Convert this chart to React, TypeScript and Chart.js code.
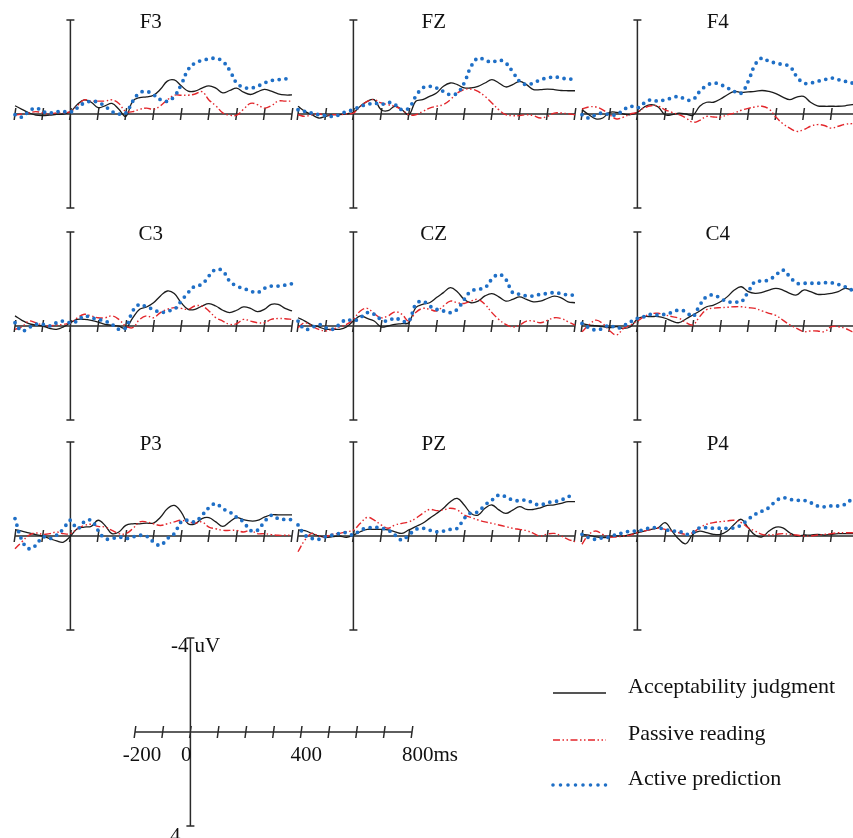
import React, { useEffect, useRef } from "react";
import { Chart, registerables } from "chart.js";
Chart.register(...registerables);

// ---------- data ----------
const times = [-200, -175, -150, -125, -100, -75, -50, -25, 0, 25, 50, 75, 100, 125, 150, 175, 200, 225, 250, 275, 300, 325, 350, 375, 400, 425, 450, 475, 500, 525, 550, 575, 600, 625, 650, 675, 700, 725, 750, 775, 800];
const electrodes = ["F3", "FZ", "F4", "C3", "CZ", "C4", "P3", "PZ", "P4"];
const seriesNames = ["Acceptability judgment", "Passive reading", "Active prediction"];
const axisTicks = [-200, -100, 0, 100, 200, 300, 400, 500, 600, 700, 800];
const scaleTickLabels = ["-200", "0", "400", "800ms"];
const scaleTickTimes = [-200, 0, 400, 800];
const voltRange = [-4, 4];
const voltUnit = "uV";

const f3Judgment = [-0.35, -0.2, -0.05, 0.05, 0.07, 0.05, 0.02, 0, -0.1, -0.4, -0.6, -0.5, -0.27, -0.35, -0.45, -0.2, 0.1, -0.55, -0.7, -0.73, -0.8, -1.05, -1.4, -1.45, -1.2, -0.97, -0.97, -1.1, -1.2, -1.1, -0.9, -1.0, -1.1, -0.93, -0.83, -0.94, -1.05, -0.97, -0.86, -0.81, -0.81];
const f3Passive = [0.05, 0, -0.05, -0.1, -0.05, 0, -0.05, -0.05, -0.1, -0.35, -0.6, -0.55, -0.55, -0.55, -0.6, -0.45, -0.1, -0.1, -0.2, -0.25, -0.2, -0.35, -0.6, -0.8, -0.8, -0.8, -0.85, -0.95, -0.6, -0.35, -0.05, 0.05, 0.05, -0.2, -0.45, -0.4, -0.25, -0.35, -0.55, -0.55, -0.55];
const f3Prediction = [0.03, 0.13, -0.11, -0.26, -0.11, -0.04, -0.1, -0.1, -0.08, -0.26, -0.47, -0.54, -0.5, -0.33, -0.11, 0, -0.04, -0.54, -0.9, -0.96, -0.82, -0.61, -0.54, -0.75, -1.25, -1.89, -2.17, -2.28, -2.34, -2.37, -2.24, -1.86, -1.32, -1.14, -1.1, -1.18, -1.32, -1.42, -1.46, -1.49, -1.57];

const fzJudgment = [-0.33, -0.11, 0.03, 0.17, 0.1, 0.03, 0.03, -0.01, -0.07, -0.33, -0.54, -0.61, -0.18, -0.14, -0.33, -0.18, 0.03, -0.54, -0.61, -0.75, -0.89, -1.18, -1.32, -1.25, -1.11, -1.11, -1.18, -1.32, -1.46, -1.32, -1.15, -1.25, -1.39, -1.25, -1.04, -1.04, -1.06, -1.04, -1.0, -0.99, -0.99];
const fzPassive = [0.03, 0.1, 0.03, -0.01, 0.07, 0.03, 0.03, -0.01, -0.04, -0.33, -0.54, -0.61, -0.47, -0.4, -0.33, -0.18, 0.03, 0.03, -0.11, -0.25, -0.33, -0.4, -0.61, -0.89, -1.04, -1.06, -0.96, -0.75, -0.47, -0.18, 0.03, 0.07, 0.07, 0.03, 0.07, 0.17, 0.1, -0.04, -0.04, -0.01, 0.03];
const fzPrediction = [-0.18, -0.11, -0.04, 0.03, 0.07, 0.1, 0.03, -0.11, -0.18, -0.33, -0.4, -0.47, -0.4, -0.5, -0.4, -0.18, -0.25, -0.75, -1.11, -1.18, -1.11, -0.96, -0.82, -0.89, -1.32, -2.03, -2.38, -2.3, -2.2, -2.3, -2.17, -1.8, -1.39, -1.25, -1.32, -1.46, -1.53, -1.58, -1.53, -1.49, -1.49];

const f4Judgment = [-0.18, 0.03, 0.21, 0.17, -0.07, -0.07, 0, 0.03, -0.07, -0.3, -0.4, -0.3, 0.03, 0.03, -0.04, 0, 0.06, -0.33, -0.5, -0.5, -0.64, -0.82, -0.96, -0.92, -0.94, -0.96, -1.0, -0.96, -0.87, -0.72, -0.61, -0.72, -0.75, -0.5, -0.35, -0.33, -0.33, -0.33, -0.35, -0.4, -0.4];
const f4Passive = [-0.21, -0.3, -0.3, -0.18, 0.03, 0.21, 0.13, 0, -0.07, -0.26, -0.35, -0.33, -0.18, -0.07, 0.03, 0.17, 0.35, 0.27, 0.1, 0.13, 0.13, 0.03, -0.04, -0.16, -0.24, -0.3, -0.33, -0.21, 0.13, 0.41, 0.6, 0.74, 0.67, 0.52, 0.45, 0.49, 0.6, 0.52, 0.44, 0.41, 0.41];
const f4Prediction = [0.03, 0.17, 0.03, -0.04, 0.03, 0.03, -0.18, -0.33, -0.26, -0.47, -0.61, -0.54, -0.61, -0.68, -0.75, -0.61, -0.61, -0.96, -1.21, -1.32, -1.25, -1.11, -0.96, -0.89, -1.39, -2.1, -2.38, -2.24, -2.17, -2.1, -2.03, -1.6, -1.32, -1.32, -1.39, -1.46, -1.53, -1.46, -1.39, -1.32, -1.3];

const c3Judgment = [-0.43, -0.24, -0.1, -0.04, 0, 0.1, 0.14, 0.04, -0.14, -0.28, -0.28, -0.24, -0.17, -0.07, -0.03, 0.01, 0.1, -0.35, -0.71, -0.81, -0.99, -1.28, -1.49, -1.38, -0.99, -0.71, -0.71, -0.85, -0.95, -0.85, -0.67, -0.57, -0.67, -0.81, -0.75, -0.61, -0.71, -0.92, -0.92, -0.75, -0.64];
const c3Passive = [0.14, 0.04, -0.21, -0.14, -0.04, 0, -0.04, -0.07, -0.14, -0.35, -0.5, -0.43, -0.35, -0.35, -0.43, -0.28, 0, 0.07, -0.28, -0.43, -0.35, -0.57, -0.71, -0.78, -0.75, -0.71, -0.85, -0.85, -0.64, -0.35, -0.21, -0.07, -0.1, -0.28, -0.21, -0.14, -0.14, -0.28, -0.32, -0.31, -0.28];
const c3Prediction = [-0.14, 0.21, 0.07, -0.07, -0.07, 0, -0.14, -0.21, -0.14, -0.21, -0.43, -0.35, -0.28, -0.21, -0.07, 0.14, 0.07, -0.64, -0.92, -0.81, -0.71, -0.57, -0.64, -0.71, -1.06, -1.42, -1.7, -1.77, -2.13, -2.41, -2.34, -1.91, -1.7, -1.6, -1.49, -1.42, -1.6, -1.7, -1.7, -1.74, -1.8];

const czJudgment = [-0.35, -0.21, -0.04, 0.04, 0.14, 0.14, 0.14, 0.04, -0.21, -0.43, -0.32, -0.21, 0.04, 0, -0.07, -0.1, -0.14, -0.78, -0.92, -0.99, -1.21, -1.42, -1.63, -1.46, -1.13, -0.99, -1.06, -1.28, -1.38, -1.24, -1.06, -1.13, -1.24, -1.13, -1.03, -1.06, -1.17, -1.27, -1.2, -1.03, -0.99];
const czPassive = [0.07, -0.14, 0, 0.14, 0.21, 0.14, 0.04, -0.07, -0.28, -0.64, -0.75, -0.53, -0.35, -0.43, -0.6, -0.5, -0.21, -0.57, -0.75, -0.71, -0.64, -0.85, -1.06, -0.99, -0.96, -1.06, -1.13, -0.92, -0.57, -0.28, -0.07, 0.04, -0.04, -0.21, -0.21, -0.14, -0.24, -0.35, -0.32, -0.18, -0.04];
const czPrediction = [-0.21, 0.14, 0.07, -0.07, 0.07, 0.14, -0.07, -0.28, -0.21, -0.35, -0.57, -0.5, -0.28, -0.21, -0.35, -0.21, -0.21, -0.92, -1.06, -0.85, -0.71, -0.64, -0.57, -0.71, -1.13, -1.49, -1.56, -1.63, -1.99, -2.2, -1.99, -1.42, -1.35, -1.28, -1.28, -1.35, -1.38, -1.42, -1.38, -1.32, -1.32];

const c4Judgment = [-0.11, -0.04, -0.01, 0.03, 0.07, 0.03, 0.1, 0.03, -0.3, -0.4, -0.4, -0.4, -0.33, -0.21, -0.14, -0.3, -0.47, -0.64, -0.82, -0.89, -1.03, -1.25, -1.53, -1.67, -1.46, -1.39, -1.43, -1.53, -1.6, -1.53, -1.39, -1.32, -1.53, -1.46, -1.35, -1.35, -1.39, -1.46, -1.6, -1.53, -1.53];
const c4Passive = [0.24, -0.04, -0.25, -0.1, 0.2, 0.38, 0.1, -0.04, -0.21, -0.4, -0.52, -0.54, -0.47, -0.4, -0.33, -0.15, -0.05, -0.4, -0.7, -0.76, -0.78, -0.8, -0.82, -0.82, -0.78, -0.75, -0.64, -0.54, -0.45, -0.25, -0.05, 0.1, 0.24, 0.21, 0.21, 0.24, 0.03, 0.03, 0.1, 0.24, 0.3];
const c4Prediction = [-0.11, 0.07, 0.17, 0.1, -0.04, 0.1, -0.01, -0.18, -0.33, -0.4, -0.5, -0.47, -0.5, -0.58, -0.68, -0.61, -0.4, -0.89, -1.25, -1.32, -1.18, -1.03, -1.03, -1.03, -1.46, -1.89, -1.91, -1.96, -2.17, -2.38, -2.1, -1.82, -1.82, -1.82, -1.82, -1.84, -1.84, -1.77, -1.67, -1.53, -1.5];

const p3Judgment = [-0.27, -0.21, -0.13, -0.06, 0.01, 0.11, 0.21, 0.26, 0.01, -0.31, -0.38, -0.41, -0.67, -0.45, -0.1, -0.17, -0.45, -0.52, -0.52, -0.55, -0.55, -0.8, -1.16, -1.3, -1.02, -0.52, -0.52, -0.74, -0.78, -0.6, -0.41, -0.6, -0.78, -0.7, -0.64, -0.66, -0.8, -0.9, -0.9, -0.9, -0.9];
const p3Passive = [0.54, 0.25, -0.03, -0.13, -0.07, -0.1, -0.17, -0.1, -0.1, -0.31, -0.45, -0.5, -0.41, -0.38, -0.24, -0.1, -0.1, -0.31, -0.6, -0.6, -0.52, -0.45, -0.52, -0.6, -0.67, -0.6, -0.55, -0.6, -0.38, -0.31, -0.24, -0.24, -0.24, -0.17, -0.24, -0.1, -0.1, -0.06, -0.03, -0.03, -0.03];
const p3Prediction = [-0.74, 0.18, 0.54, 0.4, 0.04, 0.11, -0.03, -0.31, -0.67, -0.31, -0.6, -0.67, -0.24, 0.11, 0.11, 0.04, 0.11, 0.04, -0.03, 0.01, 0.25, 0.4, 0.11, -0.1, -0.6, -0.67, -0.6, -0.88, -1.2, -1.38, -1.16, -1.02, -0.8, -0.6, -0.24, -0.24, -0.6, -0.88, -0.74, -0.7, -0.7];

const pzJudgment = [-0.26, -0.23, -0.11, 0, 0.06, 0.03, 0, 0.06, -0.04, -0.18, -0.28, -0.28, -0.28, -0.26, -0.18, -0.11, -0.26, -0.4, -0.54, -0.75, -0.96, -1.18, -1.46, -1.6, -1.32, -0.96, -0.89, -1.18, -1.32, -1.11, -0.96, -1.1, -1.25, -1.13, -1.13, -1.2, -1.3, -1.32, -1.39, -1.46, -1.46];
const pzPassive = [0.67, 0.17, -0.11, 0, 0.03, -0.08, -0.11, -0.18, -0.25, -0.54, -0.79, -0.68, -0.47, -0.33, -0.47, -0.54, -0.6, -0.75, -0.96, -1.13, -1.08, -1.11, -1.18, -1.11, -0.89, -0.79, -0.68, -0.6, -0.54, -0.47, -0.4, -0.33, -0.28, -0.23, -0.11, 0, -0.08, -0.11, 0, 0.14, 0.24];
const pzPrediction = [-0.47, -0.04, 0.1, 0.14, 0.03, -0.04, -0.11, -0.14, -0.04, -0.25, -0.33, -0.37, -0.33, -0.25, -0.04, 0.17, -0.04, -0.28, -0.33, -0.25, -0.18, -0.21, -0.28, -0.33, -0.75, -0.99, -1.03, -1.32, -1.53, -1.74, -1.67, -1.53, -1.5, -1.53, -1.39, -1.32, -1.42, -1.46, -1.53, -1.67, -1.79];

const p4Judgment = [-0.07, -0.04, 0.04, 0.07, 0.04, 0, 0, -0.07, -0.14, -0.21, -0.28, -0.35, -0.57, -0.21, 0.14, 0.33, -0.07, -0.21, -0.14, -0.07, -0.07, -0.21, -0.5, -0.71, -0.35, -0.04, 0.04, -0.21, -0.38, -0.35, -0.14, 0, -0.04, -0.04, -0.07, -0.04, -0.07, -0.1, -0.1, -0.1, -0.1];
const p4Passive = [0.35, -0.07, -0.21, -0.07, 0.04, 0.04, 0, -0.04, -0.14, -0.21, -0.28, -0.33, -0.28, -0.21, -0.14, -0.07, -0.14, -0.35, -0.5, -0.57, -0.61, -0.64, -0.67, -0.57, -0.35, -0.21, -0.07, -0.04, -0.07, -0.1, -0.07, -0.04, 0, 0, -0.04, -0.07, -0.1, -0.14, -0.14, -0.14, -0.14];
const p4Prediction = [-0.07, 0.07, 0.14, 0.07, 0.04, -0.07, -0.14, -0.21, -0.21, -0.28, -0.35, -0.35, -0.28, -0.21, -0.21, -0.07, -0.14, -0.35, -0.35, -0.33, -0.33, -0.33, -0.35, -0.47, -0.71, -0.92, -1.06, -1.21, -1.49, -1.63, -1.56, -1.52, -1.52, -1.42, -1.28, -1.24, -1.28, -1.28, -1.35, -1.56, -1.6];

const panelSeries = [
  [f3Judgment, f3Passive, f3Prediction],
  [fzJudgment, fzPassive, fzPrediction],
  [f4Judgment, f4Passive, f4Prediction],
  [c3Judgment, c3Passive, c3Prediction],
  [czJudgment, czPassive, czPrediction],
  [c4Judgment, c4Passive, c4Prediction],
  [p3Judgment, p3Passive, p3Prediction],
  [pzJudgment, pzPassive, pzPrediction],
  [p4Judgment, p4Passive, p4Prediction],
];

// ---------- styles / layout ----------
const SERIF = '"Liberation Serif", "Times New Roman", Times, serif';
const STYLES = [
  { color: "#1c1c1c", width: 1.3, dash: [] as number[], cap: "butt" },
  { color: "#e3262b", width: 1.4, dash: [7, 2.5, 1.5, 2.5, 1.5, 2.5], cap: "butt" },
  { color: "#1f6fc6", width: 3.8, dash: [0, 6.8], cap: "round" },
];
const PW = 277;
const PH = 188;
const PAD = 12;
const COL_X = [15, 298, 582];
const ROW_Y = [20, 232, 442];
const AXIS_COLOR = "#2a2a2a";

function drawFrame(chart: any, tickLen: number) {
  const { ctx } = chart;
  const x = chart.scales.x;
  const y = chart.scales.y;
  const y0 = y.getPixelForValue(0);
  const x0 = x.getPixelForValue(0);
  const yTop = y.getPixelForValue(voltRange[0]);
  const yBot = y.getPixelForValue(voltRange[1]);
  const xL = x.getPixelForValue(axisTicks[0]);
  const xR = x.getPixelForValue(axisTicks[axisTicks.length - 1]);
  ctx.save();
  ctx.strokeStyle = AXIS_COLOR;
  ctx.lineWidth = 1.5;
  ctx.setLineDash([]);
  ctx.beginPath();
  ctx.moveTo(xL, y0);
  ctx.lineTo(xR, y0);
  axisTicks.forEach((t) => {
    const px = x.getPixelForValue(t);
    ctx.moveTo(px - 0.8, y0 + tickLen);
    ctx.lineTo(px + 0.8, y0 - tickLen);
  });
  ctx.moveTo(x0, yTop);
  ctx.lineTo(x0, yBot);
  ctx.moveTo(x0 - 4, yTop);
  ctx.lineTo(x0 + 4, yTop);
  ctx.moveTo(x0 - 4, yBot);
  ctx.lineTo(x0 + 4, yBot);
  ctx.stroke();
  ctx.restore();
}

function baseOptions(padding: any) {
  return {
    animation: false as const,
    responsive: false,
    maintainAspectRatio: false,
    events: [] as any[],
    layout: { padding },
    scales: {
      x: { type: "linear" as const, min: -200, max: 800, display: false },
      y: { type: "linear" as const, min: voltRange[0], max: voltRange[1], reverse: true, display: false },
    },
    plugins: { legend: { display: false }, tooltip: { enabled: false } },
    elements: { point: { radius: 0 } },
  };
}

function Panel({ index }: { index: number }) {
  const ref = useRef<HTMLCanvasElement | null>(null);
  const name = electrodes[index];
  const left = COL_X[index % 3] - PAD;
  const top = ROW_Y[Math.floor(index / 3)] - PAD;
  useEffect(() => {
    const framePlugin = {
      id: "erpFrame",
      beforeDatasetsDraw(chart: any) {
        drawFrame(chart, 6);
        const { ctx } = chart;
        ctx.save();
        ctx.fillStyle = "#111";
        ctx.font = `21px ${SERIF}`;
        ctx.textAlign = "center";
        ctx.textBaseline = "alphabetic";
        ctx.fillText(name, chart.scales.x.getPixelForValue(290), chart.scales.y.getPixelForValue(voltRange[0]) + 7.5);
        ctx.restore();
      },
    };
    const chart = new Chart(ref.current as HTMLCanvasElement, {
      type: "line",
      data: {
        datasets: panelSeries[index].map((vals, i) => ({
          label: seriesNames[i],
          data: times.map((t, k) => ({ x: t, y: vals[k] })),
          borderColor: STYLES[i].color,
          borderWidth: STYLES[i].width,
          borderDash: STYLES[i].dash,
          borderCapStyle: STYLES[i].cap as any,
          borderJoinStyle: "round" as const,
          tension: 0.4,
          fill: false,
          pointRadius: 0,
          clip: PAD,
          order: 3 - i,
        })),
      },
      options: baseOptions(PAD) as any,
      plugins: [framePlugin],
    });
    return () => chart.destroy();
  }, [index]);
  return (
    <canvas
      ref={ref}
      width={PW + 2 * PAD}
      height={PH + 2 * PAD}
      style={{ position: "absolute", left, top, width: PW + 2 * PAD, height: PH + 2 * PAD }}
    />
  );
}

// bottom area: scale bar + legend
const BOTTOM_TOP = 600;
const BOTTOM_H = 238;
const SCALE_LEFT = 135;
const SCALE_TOP = 638;
const LEGEND_X1 = 553;
const LEGEND_X2 = 606;
const LEGEND_TEXT_X = 628;
const LEGEND_ROWS = [693, 740, 785];

function ScaleAndLegend() {
  const ref = useRef<HTMLCanvasElement | null>(null);
  useEffect(() => {
    const plugin = {
      id: "scaleLegend",
      afterDraw(chart: any) {
        drawFrame(chart, 6);
        const { ctx } = chart;
        const x = chart.scales.x;
        const y = chart.scales.y;
        const y0 = y.getPixelForValue(0);
        const x0 = x.getPixelForValue(0);
        ctx.save();
        ctx.fillStyle = "#111";
        ctx.font = `21px ${SERIF}`;
        ctx.textBaseline = "alphabetic";
        const base = y0 + 29;
        scaleTickLabels.forEach((lab, i) => {
          const px = x.getPixelForValue(scaleTickTimes[i]);
          if (i === 0) { ctx.textAlign = "center"; ctx.fillText(lab, px + 7, base); }
          else if (i === 1) { ctx.textAlign = "right"; ctx.fillText(lab, px + 1, base); }
          else if (i === 2) { ctx.textAlign = "center"; ctx.fillText(lab, px + 5, base); }
          else { ctx.textAlign = "left"; ctx.fillText(lab, px - 10, base); }
        });
        const yTop = y.getPixelForValue(voltRange[0]);
        const yBot = y.getPixelForValue(voltRange[1]);
        ctx.textAlign = "right";
        ctx.fillText(String(voltRange[0]), x0 - 2, yTop + 14);
        ctx.fillText(String(voltRange[1]), x0 - 10, yBot + 16);
        ctx.textAlign = "left";
        ctx.fillText(voltUnit, x0 + 4, yTop + 14);

        // legend
        ctx.font = `22px ${SERIF}`;
        seriesNames.forEach((nm, i) => {
          const yy = LEGEND_ROWS[i] - BOTTOM_TOP;
          ctx.save();
          ctx.strokeStyle = STYLES[i].color;
          ctx.lineWidth = i === 2 ? 3.6 : 1.5;
          ctx.lineCap = STYLES[i].cap as any;
          ctx.setLineDash(i === 2 ? [0, 7.5] : STYLES[i].dash);
          ctx.beginPath();
          ctx.moveTo(LEGEND_X1, yy);
          ctx.lineTo(LEGEND_X2, yy);
          ctx.stroke();
          ctx.restore();
          ctx.textAlign = "left";
          ctx.fillText(nm, LEGEND_TEXT_X, yy);
        });
        ctx.restore();
      },
    };
    const chart = new Chart(ref.current as HTMLCanvasElement, {
      type: "line",
      data: { datasets: [] },
      options: baseOptions({
        left: SCALE_LEFT,
        right: 853 - SCALE_LEFT - PW,
        top: SCALE_TOP - BOTTOM_TOP,
        bottom: BOTTOM_H - (SCALE_TOP - BOTTOM_TOP) - PH,
      }) as any,
      plugins: [plugin],
    });
    return () => chart.destroy();
  }, []);
  return (
    <canvas
      ref={ref}
      width={853}
      height={BOTTOM_H}
      style={{ position: "absolute", left: 0, top: BOTTOM_TOP, width: 853, height: BOTTOM_H }}
    />
  );
}

export default function App() {
  return (
    <div
      style={{
        position: "fixed",
        left: 0,
        top: 0,
        width: 853,
        height: 838,
        overflow: "hidden",
        background: "#fff",
      }}
    >
      {electrodes.map((e, i) => (
        <Panel key={e} index={i} />
      ))}
      <ScaleAndLegend />
    </div>
  );
}
